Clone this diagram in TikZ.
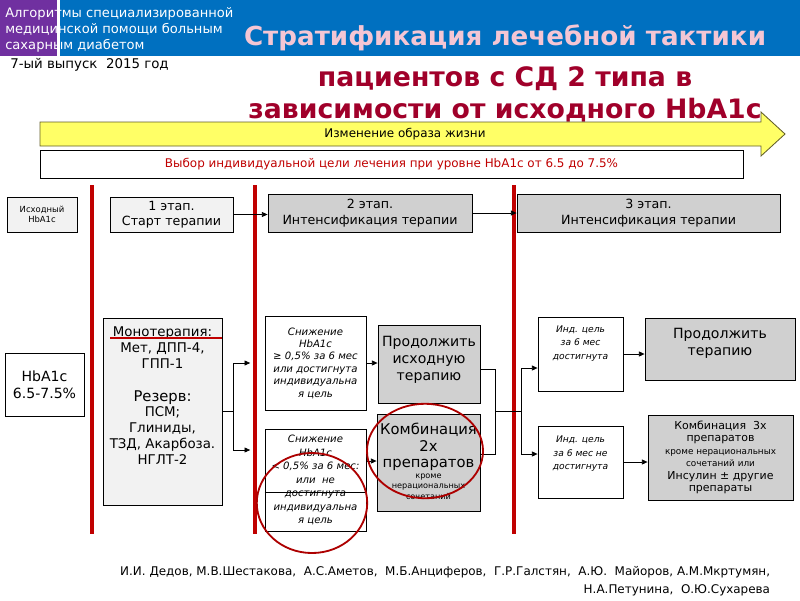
\documentclass[tikz,border=0pt]{standalone}
\usepackage{fontspec}
\setmainfont{DejaVu Sans}
\usetikzlibrary{arrows.meta,calc,positioning}

\definecolor{bannerblue}{HTML}{0070C0}
\definecolor{bannerpurple}{HTML}{7030A0}
\definecolor{titlepink}{HTML}{F4C6D4}
\definecolor{titlered}{HTML}{A0002A}
\definecolor{barred}{HTML}{C00000}
\definecolor{lightfill}{HTML}{F2F2F2}
\definecolor{darkfill}{HTML}{D0D0D0}
\definecolor{lifeyellow}{HTML}{FFFF66}

\tikzset{
  wh/.style 2 args={minimum width=#1*0.025cm, minimum height=#2*0.025cm},
  lightbox/.style={draw, line width=0.6pt, fill=lightfill, align=center, inner sep=0pt},
  darkbox/.style={draw, line width=0.6pt, fill=darkfill, align=center, inner sep=0pt},
  plainbox/.style={draw, line width=0.6pt, fill=white, align=center, inner sep=0pt},
  redbar/.style={barred, line width=3pt},
  conn/.style={-{Triangle[length=4pt,width=3.5pt]}, line width=0.5pt},
  ring/.style={barred!90!black, line width=1.3pt}
}

\begin{document}
\begin{tikzpicture}[x=0.025cm, y=-0.025cm]
\useasboundingbox (0,0) rectangle (800,600);

% Banner
\fill[bannerblue] (60,0) rectangle (800,56);
\fill[bannerpurple] (0,0) rectangle (57,56);
\node[anchor=north west, white, align=left, inner sep=0pt,
      font=\fontsize{9.3}{11.4}\selectfont] (series) at (5,7)
  {Алгоритмы специализированной\\медицинской помощи больным\\сахарным диабетом};
\node[anchor=west, inner sep=0pt, font=\fontsize{9.5}{12}\selectfont] (issue) at (10,65)
  {7-ый выпуск\ \ 2015 год};

% Title
\node[titlepink, font=\bfseries\fontsize{18.6}{23}\selectfont] (title1) at (505,38)
  {Стратификация лечебной тактики};
\node[titlered, align=center, font=\bfseries\fontsize{19}{22.7}\selectfont] (title2) at (505,94)
  {пациентов с СД 2 типа в\\зависимости от исходного HbA1c};

% Lifestyle arrow and target
\draw[fill=lifeyellow, draw=olive!60!black, line width=0.6pt]
  (40,122) -- (761,122) -- (761,112) -- (785,134) -- (761,156) -- (761,146) -- (40,146) -- cycle;
\node[font=\fontsize{8.5}{10}\selectfont] (life) at (405,134) {Изменение образа жизни};
\node[plainbox, wh={703}{28}, text=barred, font=\fontsize{8.5}{10}\selectfont] (target) at (391.5,164)
  {Выбор индивидуальной цели лечения при уровне HbA1c от 6.5 до 7.5\%};

% Stage separators
\foreach \x in {92,255,514}
  \draw[redbar] (\x,185) -- (\x,534);

% Stage headers
\node[lightbox, wh={70}{35}, font=\fontsize{6}{7.5}\selectfont] (start) at (42,214.5) {Исходный\\HbA1c};
\node[lightbox, wh={123}{35}, font=\fontsize{9}{11}\selectfont] (stage1) at (171.5,214.5) {1 этап.\\Старт терапии};
\node[darkbox, wh={204}{38}, font=\fontsize{9}{11}\selectfont] (stage2) at (370,213) {2 этап.\\Интенсификация терапии};
\node[darkbox, wh={263}{38}, font=\fontsize{9}{11}\selectfont] (stage3) at (648.5,213) {3 этап.\\Интенсификация терапии};

% Start values and first stage
\node[plainbox, wh={79}{63}, font=\fontsize{10}{12}\selectfont] (hba) at (44.5,384.5) {HbA1c\\6.5-7.5\%};
\node[lightbox, wh={119}{187}] (mono) at (162.5,411.5) {};
\node[below=3pt of mono.north, align=center, font=\fontsize{9.5}{11.3}\selectfont] (monotext)
  {Монотерапия:\\Мет, ДПП-4,\\ГПП-1\\[12pt]{\fontsize{10.5}{11}\selectfont Резерв:}\\ПСМ;\\Глиниды,\\ТЗД, Акарбоза.\\НГЛТ-2};
\draw[barred, line width=1.5pt] (110,338) -- (222,338);

% Second stage
\node[plainbox, wh={101}{94}, font=\itshape\fontsize{7.2}{8.8}\selectfont] (dec1) at (315.5,363)
  {Снижение\\HbA1c\\≥ 0,5\% за 6 мес\\или достигнута\\индивидуальна\\я цель};
\node[plainbox, wh={101}{102}, font=\itshape\fontsize{7.2}{9.6}\selectfont] (dec2) at (315.5,480)
  {Снижение\\HbA1c\\< 0,5\% за 6 мес:\\или\ \ не\\достигнута\\индивидуальна\\я цель};
\draw[line width=0.6pt] (dec2.west |- 0,492) -- (dec2.east |- 0,492);
\node[darkbox, wh={102}{78}] (cont1) at (429,364) {};
\node[below=5pt of cont1.north, align=center, font=\fontsize{10}{12}\selectfont] (cont1text)
  {Продолжить\\исходную\\терапию};
\node[darkbox, wh={103}{97}, font=\fontsize{10.5}{12}\selectfont] (comb2) at (428.5,462.5)
  {Комбинация\\2х\\препаратов\\[-1pt]{\fontsize{5.8}{7.4}\selectfont
   \begin{tabular}{@{}c@{}}кроме\\нерациональных\\сочетаний\end{tabular}}};

% Third stage
\node[plainbox, wh={85}{74}] (ind1) at (580.5,354) {};
\node[below=3pt of ind1.north, align=center, font=\itshape\fontsize{6.5}{9.5}\selectfont] (ind1text)
  {Инд. цель\\за 6 мес\\достигнута};
\node[plainbox, wh={85}{72}] (ind2) at (580.5,462) {};
\node[below=4pt of ind2.north, align=center, font=\itshape\fontsize{6.5}{9.5}\selectfont] (ind2text)
  {Инд. цель\\за 6 мес не\\достигнута};
\node[darkbox, wh={150}{62}] (cont2) at (720,349) {};
\node[below=4pt of cont2.north, align=center, font=\fontsize{10}{12}\selectfont] (cont2text)
  {Продолжить\\терапию};
\node[darkbox, wh={145}{85}, font=\fontsize{7.8}{8.9}\selectfont] (comb3) at (720.5,457.5)
  {Комбинация\ \ 3х\\препаратов\\{\fontsize{6.3}{8.5}\selectfont кроме нерациональных}\\{\fontsize{6.3}{8.5}\selectfont сочетаний или}\\Инсулин ± другие\\препараты};

% Connectors
\draw[conn] (stage1.east) -- (stage1.east -| stage2.west);
\draw[conn] (stage2.east) -- (stage2.east -| stage3.west);

\coordinate (split1) at ($(mono.east)+(11,0)$);
\draw[line width=0.5pt] (mono.east) -- (split1);
\draw[conn, shorten >=0.36cm] (split1) |- (dec1.west);
\draw[conn, shorten >=0.36cm] (split1) |- ([yshift=0.75cm]dec2.west);

\draw[conn] (dec1.east) -- (dec1.east -| cont1.west);
\draw[conn] (dec2.east |- 0,461) -- (comb2.west |- 0,461);

\coordinate (join1) at (495,411);
\coordinate (join2) at (521,411);
\draw[line width=0.5pt] ([yshift=-0.125cm]cont1.east) -- ++(15,0) |- (comb2.east |- 0,454);
\draw[line width=0.5pt] (join1) -- (join2);
\draw[conn] (join2) |- ([yshift=-0.35cm]ind1.west);
\draw[conn] (join2) |- ([yshift=0.2cm]ind2.west);

\draw[conn] (ind1.east) -- (ind1.east -| cont2.west);
\draw[conn] (ind2.east) -- (ind2.east -| comb3.west);

% Highlight rings
\draw[ring] (425,451) ellipse [x radius=1.45cm, y radius=1.18cm];
\draw[ring] (312,503) ellipse [x radius=1.38cm, y radius=1.25cm];

% Authors
\node[anchor=east, align=right, font=\fontsize{8.5}{12.7}\selectfont] (authors) at (775,581)
  {И.И. Дедов, М.В.Шестакова,\ \ А.С.Аметов,\ \ М.Б.Анциферов,\ \ Г.Р.Галстян,\ \ А.Ю.\ \ Майоров, А.М.Мкртумян,\\Н.А.Петунина,\ \ О.Ю.Сухарева};
\end{tikzpicture}
\end{document}
